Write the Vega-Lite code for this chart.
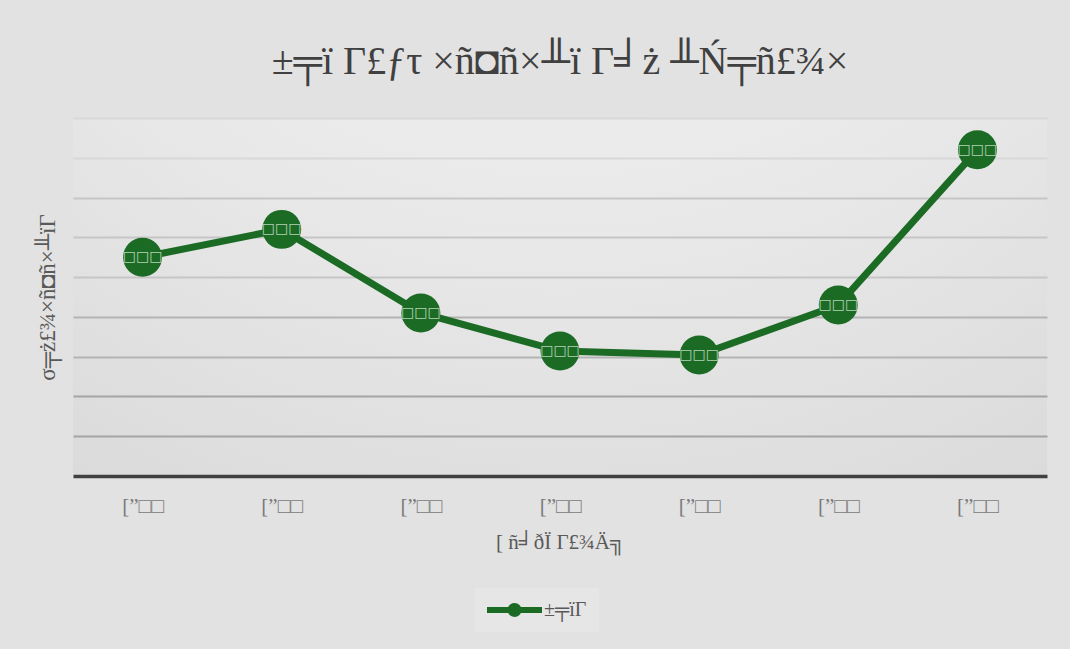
{
  "$schema": "https://vega.github.io/schema/vega-lite/v6.json",
  "width": 974,
  "height": 358,
  "autosize": {"type": "none"},
  "padding": {"left": 73, "top": 118, "right": 23, "bottom": 173},
  "background": "#e2e2e2",
  "view": {
    "stroke": null,
    "fill": {
      "gradient": "radial",
      "x1": 0.5, "y1": -0.2, "x2": 0.5, "y2": -0.2,
      "r1": 0, "r2": 1.3,
      "stops": [
        {"offset": 0, "color": "#fafafa"},
        {"offset": 0.5, "color": "#e8e8e8"},
        {"offset": 1, "color": "#d0d0d0"}
      ]
    }
  },
  "title": {
    "text": "±╤ï Γ£ƒτ ×ñ◘ñ×╨ï Γ╛ż ╨Ń╤ñ£¾×",
    "font": "Liberation Serif",
    "fontSize": 40,
    "fontWeight": "normal",
    "color": "#404040",
    "anchor": "middle",
    "baseline": "alphabetic",
    "offset": 4
  },
  "data": {
    "values": [
      {"slot": 1, "value": 55, "series": "±╤ïΓ", "tag": "□□□"},
      {"slot": 2, "value": 62, "series": "±╤ïΓ", "tag": "□□□"},
      {"slot": 3, "value": 41, "series": "±╤ïΓ", "tag": "□□□"},
      {"slot": 4, "value": 31.4, "series": "±╤ïΓ", "tag": "□□□"},
      {"slot": 5, "value": 30.4, "series": "±╤ïΓ", "tag": "□□□"},
      {"slot": 6, "value": 43, "series": "±╤ïΓ", "tag": "□□□"},
      {"slot": 7, "value": 82, "series": "±╤ïΓ", "tag": "□□□"}
    ]
  },
  "encoding": {
    "x": {
      "field": "slot",
      "type": "ordinal",
      "sort": null,
      "scale": {"type": "point", "padding": 0.5},
      "axis": {
        "title": "[ ñ╛ðÏ Γ£¾Ä╗",
        "titleFont": "Liberation Serif",
        "titleFontSize": 21,
        "titleFontWeight": "normal",
        "titleColor": "#595959",
        "titlePadding": 15,
        "labelExpr": "'[”□□'",
        "labelFont": "Liberation Serif",
        "labelFontSize": 21,
        "labelColor": "#7a7a7a",
        "labelPadding": 19,
        "labelAngle": 0,
        "ticks": false,
        "grid": false,
        "domainColor": "#404040",
        "domainWidth": 3.5
      }
    },
    "y": {
      "field": "value",
      "type": "quantitative",
      "scale": {"domain": [0, 90], "nice": false},
      "axis": {
        "title": "σ╤ż£¾×ñ◘ñ×╨ïΓ",
        "titleFont": "Liberation Serif",
        "titleFontSize": 23,
        "titleFontWeight": "normal",
        "titleColor": "#595959",
        "titlePadding": 14,
        "labels": false,
        "ticks": false,
        "domain": false,
        "values": [10, 20, 30, 40, 50, 60, 70, 80, 90],
        "gridWidth": 2,
        "gridColor": {
          "condition": [
            {"test": "datum.value >= 75", "value": "#d8d8d8"},
            {"test": "datum.value >= 45", "value": "#c6c6c6"},
            {"test": "datum.value >= 25", "value": "#b4b4b4"}
          ],
          "value": "#a4a4a4"
        }
      }
    }
  },
  "layer": [
    {
      "mark": {"type": "line", "strokeWidth": 7, "color": "#1b6b25", "strokeCap": "round"}
    },
    {
      "mark": {"type": "point", "filled": true, "size": 1520, "opacity": 1, "shape": "circle"},
      "encoding": {
        "color": {
          "field": "series",
          "type": "nominal",
          "scale": {"range": ["#1b6b25"]},
          "legend": {
            "orient": "none",
            "legendX": 402,
            "legendY": 470,
            "title": null,
            "padding": 12,
            "fillColor": "#e6e6e6",
            "labelFont": "Liberation Serif",
            "labelFontSize": 20,
            "labelColor": "#595959",
            "labelOffset": 37,
            "symbolType": "M-1,-0.3 H4.5 V0.3 H-1 Z M2.45,0 A0.7,0.7 0 1 1 1.05,0 A0.7,0.7 0 1 1 2.45,0 Z",
            "symbolSize": 400,
            "symbolOpacity": 1,
            "symbolStrokeWidth": 0
          }
        }
      }
    },
    {
      "mark": {"type": "text", "font": "DejaVu Sans", "fontSize": 14, "color": "#cfe2cf", "opacity": 0.85},
      "encoding": {"text": {"field": "tag"}}
    }
  ]
}
